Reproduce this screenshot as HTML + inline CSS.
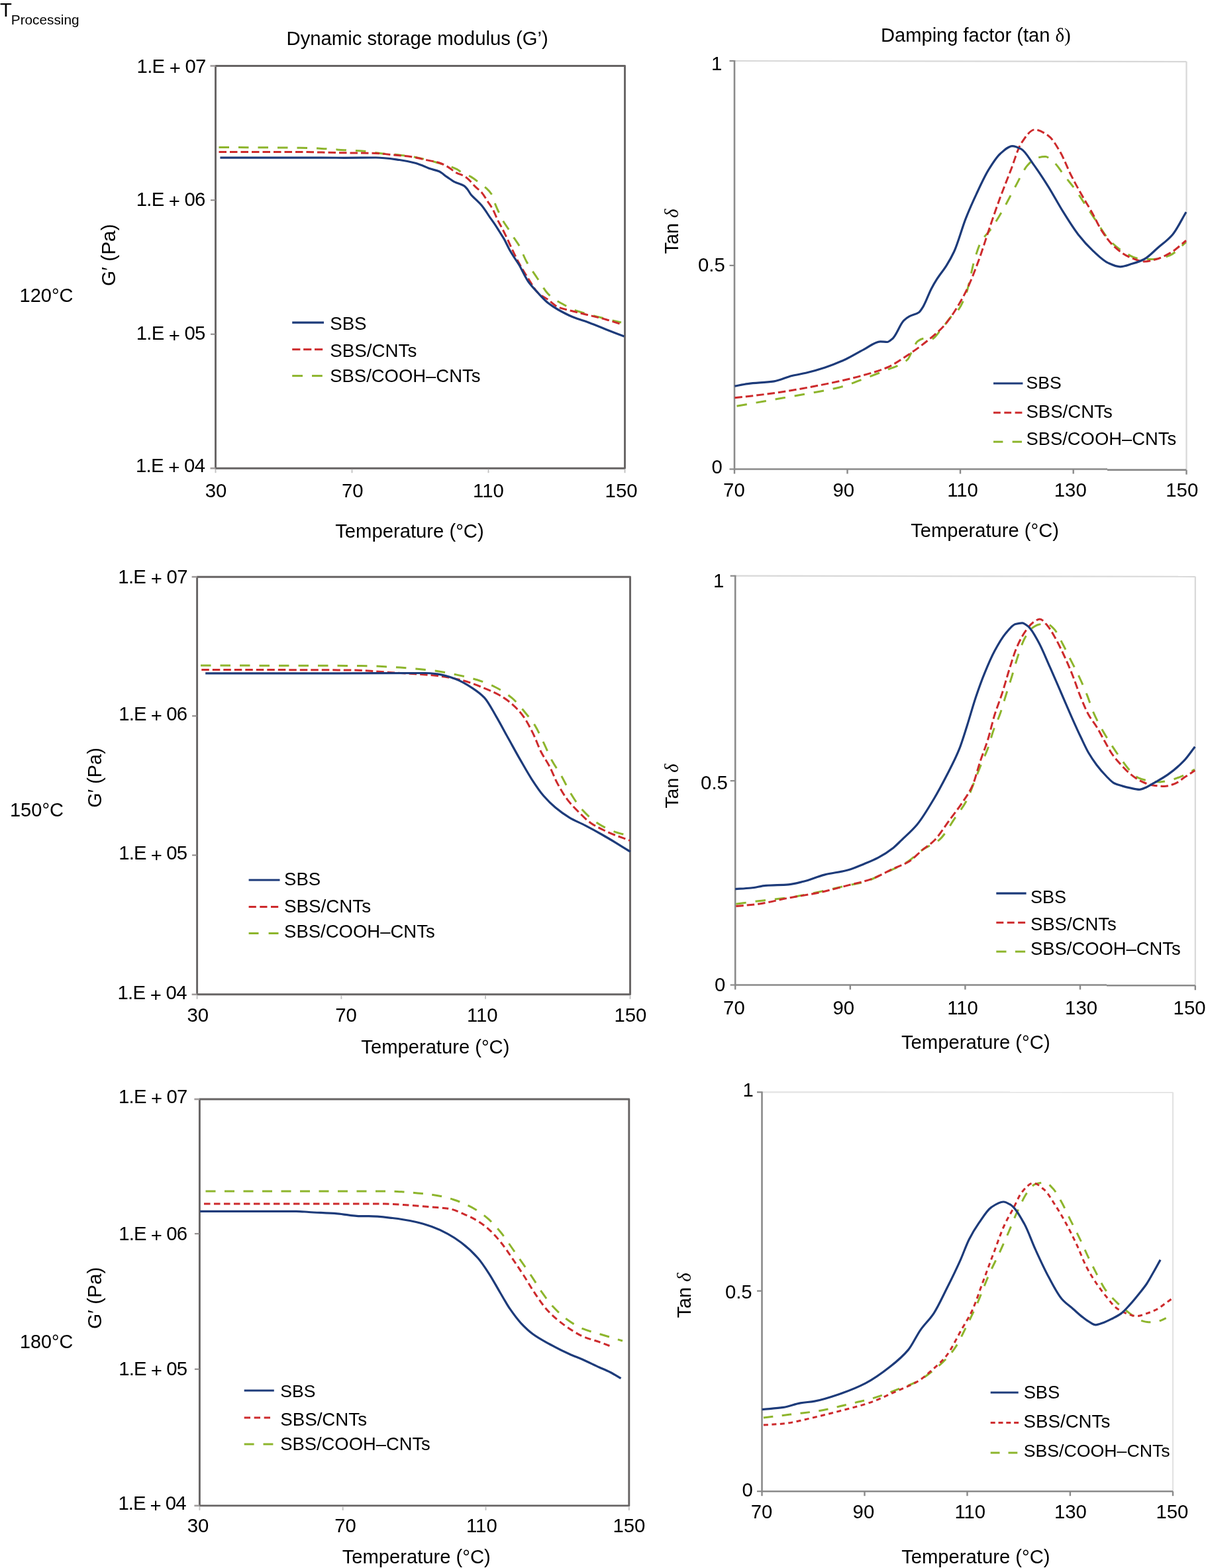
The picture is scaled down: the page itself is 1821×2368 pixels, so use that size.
<!DOCTYPE html><html><head><meta charset="utf-8"><title>Dynamic storage modulus and damping factor</title>
<style>html,body{margin:0;padding:0;background:#fff;}svg{display:block;}text{font-family:'Liberation Sans', sans-serif;fill:#000;}</style></head><body>
<svg width="1821" height="2368" viewBox="0 0 1821 2368">
<rect x="0" y="0" width="1821" height="2368" fill="#fff"/>
<g stroke-linecap="butt">
<rect x="325.5" y="99.5" width="618.00" height="607.70" fill="none" stroke="#676464" stroke-width="2.9" stroke-linejoin="round"/>
<line x1="318.0" y1="302.3" x2="325.5" y2="302.3" stroke="#8a8686" stroke-width="2"/>
<line x1="318.0" y1="504.7" x2="325.5" y2="504.7" stroke="#8a8686" stroke-width="2"/>
<line x1="317.5" y1="99.5" x2="325.5" y2="99.5" stroke="#a09c9c" stroke-width="2.6"/>
<line x1="317.5" y1="707.2" x2="325.5" y2="707.2" stroke="#a09c9c" stroke-width="2.6"/>
<line x1="325.5" y1="708.7" x2="325.5" y2="714.2" stroke="#c4c4c4" stroke-width="2"/>
<line x1="531.5" y1="708.7" x2="531.5" y2="714.2" stroke="#c4c4c4" stroke-width="2"/>
<line x1="737.5" y1="708.7" x2="737.5" y2="714.2" stroke="#c4c4c4" stroke-width="2"/>
<line x1="943.5" y1="708.7" x2="943.5" y2="714.2" stroke="#c4c4c4" stroke-width="2"/>
<rect x="297.6" y="871.2" width="653.90" height="630.60" fill="none" stroke="#676464" stroke-width="2.9" stroke-linejoin="round"/>
<line x1="290.1" y1="1081.3" x2="297.6" y2="1081.3" stroke="#8a8686" stroke-width="2"/>
<line x1="290.1" y1="1291.5" x2="297.6" y2="1291.5" stroke="#8a8686" stroke-width="2"/>
<line x1="289.6" y1="871.2" x2="297.6" y2="871.2" stroke="#a09c9c" stroke-width="2.6"/>
<line x1="289.6" y1="1501.8" x2="297.6" y2="1501.8" stroke="#a09c9c" stroke-width="2.6"/>
<line x1="297.6" y1="1503.3" x2="297.6" y2="1508.8" stroke="#c4c4c4" stroke-width="2"/>
<line x1="515.4" y1="1503.3" x2="515.4" y2="1508.8" stroke="#c4c4c4" stroke-width="2"/>
<line x1="733" y1="1503.3" x2="733" y2="1508.8" stroke="#c4c4c4" stroke-width="2"/>
<line x1="951.5" y1="1503.3" x2="951.5" y2="1508.8" stroke="#c4c4c4" stroke-width="2"/>
<rect x="301.4" y="1660" width="648.40" height="613.90" fill="none" stroke="#676464" stroke-width="2.9" stroke-linejoin="round"/>
<line x1="293.9" y1="1863.2" x2="301.4" y2="1863.2" stroke="#8a8686" stroke-width="2"/>
<line x1="293.9" y1="2067.7" x2="301.4" y2="2067.7" stroke="#8a8686" stroke-width="2"/>
<line x1="293.4" y1="1660" x2="301.4" y2="1660" stroke="#a09c9c" stroke-width="2.6"/>
<line x1="293.4" y1="2273.9" x2="301.4" y2="2273.9" stroke="#a09c9c" stroke-width="2.6"/>
<line x1="301.4" y1="2275.4" x2="301.4" y2="2280.9" stroke="#c4c4c4" stroke-width="2"/>
<line x1="517.7" y1="2275.4" x2="517.7" y2="2280.9" stroke="#c4c4c4" stroke-width="2"/>
<line x1="733.5" y1="2275.4" x2="733.5" y2="2280.9" stroke="#c4c4c4" stroke-width="2"/>
<line x1="949.8" y1="2275.4" x2="949.8" y2="2280.9" stroke="#c4c4c4" stroke-width="2"/>
<line x1="1109" y1="92" x2="1791.5" y2="93.1" stroke="#d8d8d8" stroke-width="2.2"/>
<line x1="1791.5" y1="93.1" x2="1791.5" y2="708.5" stroke="#d8d8d8" stroke-width="2.2"/>
<line x1="1109" y1="91" x2="1109" y2="709.7" stroke="#8a8a8a" stroke-width="2.6"/>
<line x1="1109" y1="708.5" x2="1672" y2="708.5" stroke="#8a8a8a" stroke-width="2.6"/>
<line x1="1672" y1="709.6" x2="1791.5" y2="709.6" stroke="#8a8a8a" stroke-width="2.6"/>
<line x1="1101.5" y1="92" x2="1109" y2="92" stroke="#8a8a8a" stroke-width="2.2"/>
<line x1="1101.5" y1="400.9" x2="1109" y2="400.9" stroke="#8a8a8a" stroke-width="2.2"/>
<line x1="1101.5" y1="708.5" x2="1109" y2="708.5" stroke="#8a8a8a" stroke-width="2.2"/>
<line x1="1109" y1="708.5" x2="1109" y2="715.5" stroke="#8a8a8a" stroke-width="2.4"/>
<line x1="1279.5" y1="708.5" x2="1279.5" y2="715.5" stroke="#8a8a8a" stroke-width="2.4"/>
<line x1="1450" y1="708.5" x2="1450" y2="715.5" stroke="#8a8a8a" stroke-width="2.4"/>
<line x1="1620.7" y1="708.5" x2="1620.7" y2="715.5" stroke="#8a8a8a" stroke-width="2.4"/>
<line x1="1791.5" y1="709.6" x2="1791.5" y2="716.6" stroke="#8a8a8a" stroke-width="2.4"/>
<line x1="1110.2" y1="869.7" x2="1804.8" y2="870.8" stroke="#d8d8d8" stroke-width="2.2"/>
<line x1="1804.8" y1="870.8" x2="1804.8" y2="1487.5" stroke="#d8d8d8" stroke-width="2.2"/>
<line x1="1110.2" y1="868.7" x2="1110.2" y2="1488.7" stroke="#8a8a8a" stroke-width="2.6"/>
<line x1="1110.2" y1="1487.5" x2="1671" y2="1487.5" stroke="#8a8a8a" stroke-width="2.6"/>
<line x1="1671" y1="1488.2" x2="1804.8" y2="1488.2" stroke="#8a8a8a" stroke-width="2.6"/>
<line x1="1102.7" y1="869.7" x2="1110.2" y2="869.7" stroke="#8a8a8a" stroke-width="2.2"/>
<line x1="1102.7" y1="1179.2" x2="1110.2" y2="1179.2" stroke="#8a8a8a" stroke-width="2.2"/>
<line x1="1102.7" y1="1487.5" x2="1110.2" y2="1487.5" stroke="#8a8a8a" stroke-width="2.2"/>
<line x1="1110.2" y1="1487.5" x2="1110.2" y2="1494.5" stroke="#8a8a8a" stroke-width="2.4"/>
<line x1="1283.8" y1="1487.5" x2="1283.8" y2="1494.5" stroke="#8a8a8a" stroke-width="2.4"/>
<line x1="1457.4" y1="1487.5" x2="1457.4" y2="1494.5" stroke="#8a8a8a" stroke-width="2.4"/>
<line x1="1631" y1="1487.5" x2="1631" y2="1494.5" stroke="#8a8a8a" stroke-width="2.4"/>
<line x1="1804.8" y1="1488.2" x2="1804.8" y2="1495.2" stroke="#8a8a8a" stroke-width="2.4"/>
<line x1="1150.5" y1="1649.4" x2="1771" y2="1649.6" stroke="#e3e3e3" stroke-width="2.2"/>
<line x1="1771" y1="1649.6" x2="1771" y2="2252.2" stroke="#e3e3e3" stroke-width="2.2"/>
<line x1="1150.5" y1="1648.4" x2="1150.5" y2="2253.3999999999996" stroke="#8a8a8a" stroke-width="2.6"/>
<line x1="1150.5" y1="2252.2" x2="1771" y2="2252.2" stroke="#8a8a8a" stroke-width="2.6"/>
<line x1="1143.0" y1="1649.4" x2="1150.5" y2="1649.4" stroke="#8a8a8a" stroke-width="2.2"/>
<line x1="1143.0" y1="1949.6" x2="1150.5" y2="1949.6" stroke="#8a8a8a" stroke-width="2.2"/>
<line x1="1143.0" y1="2252.2" x2="1150.5" y2="2252.2" stroke="#8a8a8a" stroke-width="2.2"/>
<line x1="1150.5" y1="2252.2" x2="1150.5" y2="2259.2" stroke="#8a8a8a" stroke-width="2.4"/>
<line x1="1305.5" y1="2252.2" x2="1305.5" y2="2259.2" stroke="#8a8a8a" stroke-width="2.4"/>
<line x1="1460.5" y1="2252.2" x2="1460.5" y2="2259.2" stroke="#8a8a8a" stroke-width="2.4"/>
<line x1="1615.9" y1="2252.2" x2="1615.9" y2="2259.2" stroke="#8a8a8a" stroke-width="2.4"/>
<line x1="1771" y1="2252.2" x2="1771" y2="2259.2" stroke="#8a8a8a" stroke-width="2.4"/>
<path d="M330.5,222.5 C371.4,222.7 412.4,222.7 453.3,223.2 C464.1,223.3 474.9,223.9 485.7,224.4 C497.1,224.9 508.6,226.1 520.0,226.7 C528.7,227.2 537.5,227.3 546.2,227.9 C555.3,228.5 564.5,230.4 573.6,231.4 C584.3,232.6 595.0,233.1 605.7,234.4 C614.8,235.5 624.0,236.8 633.1,238.6 C642.2,240.4 651.4,243.0 660.5,245.7 C670.3,248.6 680.2,250.9 690.0,255.7 C692.1,256.7 694.3,258.8 696.4,260.0 C701.4,262.8 706.4,264.2 711.4,267.1 C714.7,269.0 718.1,271.8 721.4,274.3 C725.7,277.5 730.0,280.2 734.3,284.3 C737.2,287.0 740.0,289.4 742.9,294.3 C744.6,297.2 746.2,304.4 747.9,308.6 C749.6,312.8 751.2,316.4 752.9,320.0 C755.3,325.1 757.6,330.2 760.0,334.3 C762.4,338.4 764.7,341.4 767.1,345.0 C770.0,349.4 772.8,354.2 775.7,358.6 C778.1,362.3 780.5,365.2 782.9,369.3 C786.9,376.2 791.0,387.7 795.0,395.0 C800.4,404.7 805.8,411.9 811.2,420.0 C816.7,428.1 822.1,438.2 827.5,443.8 C831.7,448.0 835.8,451.0 840.0,453.8 C843.8,456.2 847.5,457.9 851.2,460.0 C855.8,462.5 860.4,465.7 865.0,467.5 C873.3,470.8 881.7,472.7 890.0,475.0 C896.2,476.8 902.5,478.4 908.8,480.0 C918.5,482.5 928.2,484.7 938.0,487.0" fill="none" stroke="#8db52c" stroke-width="3" stroke-dasharray="15.5 14"/>
<path d="M330.5,229.5 C370.3,229.5 410.2,229.5 450.0,229.5 C473.3,229.5 496.7,230.5 520.0,230.8 C535.9,231.0 551.7,231.0 567.6,231.4 C575.5,231.6 583.5,233.0 591.4,233.8 C601.3,234.8 611.3,235.4 621.2,236.8 C629.1,237.9 637.1,240.2 645.0,241.9 C651.0,243.2 656.9,243.9 662.9,245.7 C666.9,246.9 670.8,249.0 674.8,251.1 C679.9,253.8 684.9,258.9 690.0,261.4 C693.6,263.2 697.1,263.8 700.7,265.7 C703.1,267.0 705.5,269.2 707.9,271.4 C711.0,274.2 714.0,278.3 717.1,281.4 C720.7,285.0 724.3,287.2 727.9,291.4 C730.7,294.7 733.6,300.0 736.4,304.3 C739.0,308.3 741.7,311.6 744.3,316.4 C746.7,320.7 749.0,327.3 751.4,332.1 C753.8,337.0 756.2,341.0 758.6,345.7 C761.0,350.3 763.3,355.0 765.7,360.0 C768.1,365.0 770.5,370.7 772.9,375.7 C776.5,383.3 780.1,390.9 783.8,397.5 C788.8,406.7 793.8,414.7 798.8,422.5 C803.3,429.6 807.9,438.3 812.5,442.5 C817.5,447.1 822.5,449.0 827.5,452.5 C832.5,456.0 837.5,461.7 842.5,463.8 C850.0,466.9 857.5,468.0 865.0,470.0 C873.3,472.2 881.7,474.2 890.0,476.2 C898.3,478.3 906.7,480.2 915.0,482.5 C922.0,484.4 929.0,486.8 936.0,489.0" fill="none" stroke="#cd2a2c" stroke-width="3" stroke-dasharray="11.5 5"/>
<path d="M332.4,238.1 C371.6,238.1 410.8,238.1 450.0,238.1 C473.3,238.1 496.7,238.3 520.0,238.3 C535.9,238.3 551.7,238.0 567.6,238.0 C579.5,238.0 591.4,239.9 603.3,241.5 C611.2,242.6 619.2,244.2 627.1,246.3 C631.1,247.4 635.0,249.0 639.0,250.5 C642.2,251.7 645.4,253.5 648.6,254.6 C653.4,256.3 658.1,256.8 662.9,258.8 C666.9,260.5 670.8,264.4 674.8,267.1 C678.8,269.8 682.7,272.9 686.7,274.9 C691.4,277.3 696.0,277.8 700.7,280.7 C702.4,281.7 704.0,283.7 705.7,285.7 C707.6,288.0 709.5,292.0 711.4,294.3 C713.8,297.2 716.2,299.0 718.6,301.4 C721.4,304.2 724.3,306.7 727.1,310.0 C729.0,312.3 731.0,315.1 732.9,317.9 C735.3,321.3 737.6,325.2 740.0,328.6 C742.4,332.0 744.7,335.1 747.1,338.6 C749.5,342.2 751.9,346.2 754.3,350.0 C756.7,353.8 759.0,357.2 761.4,361.4 C763.8,365.7 766.2,371.3 768.6,375.7 C770.7,379.6 772.9,383.1 775.0,386.5 C777.9,391.2 780.8,395.2 783.8,400.0 C788.3,407.6 792.9,418.5 797.5,425.0 C802.5,432.1 807.5,437.1 812.5,442.5 C817.5,447.9 822.5,453.5 827.5,457.5 C832.5,461.5 837.5,464.6 842.5,467.5 C850.0,471.8 857.5,475.7 865.0,478.8 C873.3,482.2 881.7,484.4 890.0,487.5 C898.3,490.6 906.7,494.2 915.0,497.5 C924.2,501.1 933.3,504.5 942.5,508.0" fill="none" stroke="#1d3b7a" stroke-width="3.2" stroke-linejoin="round"/>
<path d="M1112.5,613.3 C1122.2,611.6 1132.0,609.8 1141.7,608.1 C1155.6,605.6 1169.4,603.2 1183.3,600.8 C1197.2,598.4 1211.1,596.1 1225.0,593.5 C1238.9,590.9 1252.8,588.7 1266.7,585.2 C1280.6,581.7 1294.4,575.7 1308.3,570.6 C1318.0,567.0 1327.8,563.1 1337.5,559.2 C1345.8,555.8 1354.2,553.5 1362.5,548.8 C1365.3,547.2 1368.0,545.5 1370.8,542.5 C1373.6,539.4 1376.4,530.9 1379.2,525.8 C1381.3,522.1 1383.3,516.8 1385.4,515.4 C1388.9,513.0 1392.3,511.2 1395.8,511.2 C1398.6,511.2 1401.4,513.3 1404.2,513.3 C1411.1,513.3 1418.1,500.4 1425.0,492.5 C1428.6,488.4 1432.2,482.4 1435.8,478.6 C1439.1,475.1 1442.5,473.7 1445.8,469.6 C1450.0,464.4 1454.3,455.7 1458.5,444.6 C1463.0,432.8 1467.5,404.9 1472.0,390.4 C1475.0,380.6 1478.1,371.0 1481.1,365.5 C1486.4,356.0 1491.6,352.7 1496.9,345.1 C1502.9,336.4 1509.0,326.2 1515.0,315.7 C1521.0,305.2 1527.1,292.7 1533.1,281.8 C1539.1,270.9 1545.2,256.8 1551.2,250.1 C1555.7,245.1 1560.3,240.1 1564.8,238.8 C1569.3,237.5 1573.8,236.5 1578.3,236.5 C1582.8,236.5 1587.4,241.6 1591.9,245.6 C1597.2,250.2 1602.4,259.2 1607.7,266.0 C1613.0,272.8 1618.3,278.9 1623.6,286.3 C1628.1,292.5 1632.6,299.9 1637.1,306.7 C1643.1,315.8 1649.2,324.9 1655.2,333.8 C1662.0,343.8 1668.8,356.2 1675.6,363.2 C1683.1,371.0 1690.7,377.0 1698.2,381.3 C1705.0,385.2 1711.8,389.8 1718.6,390.4 C1726.1,391.1 1733.7,391.5 1741.2,391.5 C1749.5,391.5 1757.8,388.8 1766.1,385.8 C1774.4,382.8 1782.7,372.3 1791.0,365.5" fill="none" stroke="#8db52c" stroke-width="3" stroke-dasharray="15.5 14"/>
<path d="M1109.4,600.8 C1120.2,599.6 1130.9,598.4 1141.7,597.1 C1155.6,595.4 1169.4,593.6 1183.3,591.5 C1197.2,589.4 1211.1,586.8 1225.0,584.2 C1238.9,581.6 1252.8,578.9 1266.7,575.8 C1280.6,572.7 1294.4,569.4 1308.3,565.4 C1318.7,562.4 1329.2,559.5 1339.6,555.0 C1350.0,550.5 1360.4,543.1 1370.8,536.2 C1381.2,529.4 1391.6,521.8 1402.0,513.3 C1409.7,507.0 1417.3,500.8 1425.0,492.5 C1428.6,488.6 1432.2,483.7 1435.8,478.6 C1440.5,471.9 1445.3,464.2 1450.0,456.0 C1453.6,449.8 1457.1,443.2 1460.7,435.6 C1466.7,422.7 1472.8,406.9 1478.8,390.4 C1484.1,376.0 1489.3,358.3 1494.6,342.9 C1499.9,327.4 1505.2,311.9 1510.5,297.6 C1515.8,283.4 1521.0,270.5 1526.3,256.9 C1531.6,243.3 1536.8,223.9 1542.1,216.2 C1548.9,206.2 1555.7,195.8 1562.5,195.8 C1569.3,195.8 1576.1,200.3 1582.9,204.9 C1588.9,209.0 1595.0,219.6 1601.0,229.8 C1606.3,238.7 1611.5,253.2 1616.8,263.7 C1622.1,274.2 1627.3,283.7 1632.6,293.1 C1637.9,302.5 1643.2,310.8 1648.5,320.2 C1653.8,329.6 1659.0,341.7 1664.3,349.6 C1670.3,358.7 1676.4,366.8 1682.4,372.3 C1689.9,379.1 1697.5,384.9 1705.0,388.1 C1712.5,391.3 1720.1,394.9 1727.6,394.9 C1733.6,394.9 1739.7,393.1 1745.7,391.5 C1753.2,389.5 1760.8,385.6 1768.3,381.3 C1775.9,376.9 1783.4,369.2 1791.0,363.2" fill="none" stroke="#cd2a2c" stroke-width="3" stroke-dasharray="11.5 5"/>
<path d="M1109.4,583.1 C1116.0,581.9 1122.6,580.4 1129.2,579.6 C1142.4,577.9 1155.6,577.8 1168.8,575.8 C1177.8,574.4 1186.8,569.7 1195.8,567.5 C1202.8,565.8 1209.7,564.9 1216.7,563.3 C1226.4,561.0 1236.1,558.2 1245.8,555.0 C1256.2,551.5 1266.7,547.3 1277.1,542.5 C1286.1,538.3 1295.2,532.5 1304.2,527.9 C1312.5,523.7 1320.9,515.8 1329.2,515.8 C1332.7,515.8 1336.1,516.5 1339.6,516.5 C1342.4,516.5 1345.1,513.6 1347.9,511.2 C1353.5,506.4 1359.0,489.7 1364.6,484.2 C1367.4,481.5 1370.1,479.4 1372.9,477.9 C1377.8,475.2 1382.6,475.1 1387.5,471.7 C1389.6,470.3 1391.7,466.7 1393.8,463.3 C1397.9,456.6 1402.1,444.2 1406.2,436.2 C1409.0,430.9 1411.8,426.1 1414.6,421.7 C1419.5,414.0 1424.3,408.6 1429.2,400.8 C1433.0,394.7 1436.8,388.3 1440.6,380.0 C1446.6,367.0 1452.5,344.4 1458.5,329.3 C1463.8,316.0 1469.0,304.4 1474.3,293.1 C1480.3,280.2 1486.4,266.7 1492.4,256.9 C1498.4,247.1 1504.5,237.2 1510.5,232.0 C1516.5,226.8 1522.6,220.7 1528.6,220.7 C1533.1,220.7 1537.6,222.9 1542.1,225.2 C1548.1,228.3 1554.2,239.7 1560.2,247.9 C1567.8,258.2 1575.3,269.8 1582.9,281.8 C1590.4,293.8 1598.0,308.2 1605.5,320.2 C1613.0,332.2 1620.6,344.6 1628.1,354.2 C1635.6,363.8 1643.2,372.1 1650.7,379.1 C1658.2,386.0 1665.8,393.8 1673.3,397.1 C1679.3,399.8 1685.4,402.8 1691.4,402.8 C1697.4,402.8 1703.5,400.1 1709.5,398.3 C1715.5,396.5 1721.6,394.6 1727.6,391.5 C1734.4,388.0 1741.2,380.4 1748.0,374.5 C1755.5,368.0 1763.1,363.0 1770.6,354.2 C1777.4,346.2 1784.2,331.5 1791.0,320.2" fill="none" stroke="#1d3b7a" stroke-width="3.2" stroke-linejoin="round"/>
<path d="M303.0,1005.0 C383.6,1005.2 464.2,1005.1 544.8,1005.5 C564.6,1005.6 584.5,1006.9 604.3,1008.1 C613.8,1008.7 623.4,1009.6 632.9,1010.5 C641.9,1011.4 651.0,1012.2 660.0,1013.4 C670.7,1014.9 681.4,1017.3 692.1,1019.6 C701.6,1021.7 711.2,1023.8 720.7,1026.8 C729.6,1029.6 738.6,1033.1 747.5,1037.5 C755.8,1041.6 764.2,1046.8 772.5,1053.6 C779.0,1058.9 785.6,1067.1 792.1,1075.0 C797.5,1081.5 802.8,1087.8 808.2,1096.4 C812.4,1103.1 816.5,1112.8 820.7,1121.4 C824.9,1130.0 829.0,1140.5 833.2,1148.2 C838.0,1157.0 842.7,1163.1 847.5,1171.4 C852.3,1179.7 857.0,1190.4 861.8,1198.2 C867.2,1207.0 872.5,1215.3 877.9,1221.4 C885.0,1229.5 892.2,1236.2 899.3,1241.1 C908.2,1247.2 917.2,1252.0 926.1,1255.4 C934.6,1258.6 943.2,1260.4 951.7,1262.9" fill="none" stroke="#8db52c" stroke-width="3" stroke-dasharray="15.5 14"/>
<path d="M304.3,1011.4 C378.9,1011.6 453.4,1011.5 528.0,1012.0 C551.8,1012.1 575.7,1014.7 599.5,1016.2 C615.3,1017.2 631.2,1018.0 647.0,1019.3 C651.3,1019.6 655.7,1020.0 660.0,1020.5 C671.9,1021.9 683.8,1024.0 695.7,1026.8 C707.6,1029.6 719.5,1034.5 731.4,1039.3 C739.1,1042.4 746.9,1045.6 754.6,1050.0 C761.2,1053.7 767.7,1058.5 774.3,1064.3 C779.7,1069.0 785.0,1074.8 790.4,1082.1 C795.1,1088.6 799.9,1097.7 804.6,1107.1 C808.8,1115.4 812.9,1127.5 817.1,1135.7 C821.3,1143.9 825.4,1149.2 829.6,1157.1 C833.8,1165.0 837.9,1176.2 842.1,1183.9 C846.9,1192.7 851.6,1200.8 856.4,1207.1 C862.4,1215.0 868.3,1220.9 874.3,1226.8 C880.2,1232.7 886.2,1238.9 892.1,1242.9 C901.0,1249.0 910.0,1253.1 918.9,1257.1 C929.6,1261.9 940.3,1265.3 951.0,1269.4" fill="none" stroke="#cd2a2c" stroke-width="3" stroke-dasharray="11.5 5"/>
<path d="M310.2,1016.9 C373.5,1016.9 436.7,1016.9 500.0,1016.9 C547.5,1016.9 594.9,1016.5 642.4,1016.5 C648.3,1016.5 654.1,1017.2 660.0,1017.9 C668.9,1019.0 677.9,1021.8 686.8,1025.0 C695.7,1028.2 704.7,1033.5 713.6,1039.3 C719.5,1043.2 725.5,1047.3 731.4,1053.6 C737.4,1060.0 743.3,1072.0 749.3,1082.1 C755.2,1092.1 761.2,1103.6 767.1,1114.3 C773.1,1125.0 779.0,1136.0 785.0,1146.4 C791.0,1156.8 796.9,1167.6 802.9,1176.8 C808.8,1185.9 814.8,1194.9 820.7,1201.8 C826.7,1208.7 832.6,1214.6 838.6,1219.6 C845.7,1225.6 852.9,1230.7 860.0,1234.9 C867.7,1239.4 875.5,1242.4 883.2,1246.4 C892.1,1251.0 901.1,1255.9 910.0,1261.0 C923.9,1268.9 937.8,1277.7 951.7,1286.1" fill="none" stroke="#1d3b7a" stroke-width="3.2" stroke-linejoin="round"/>
<path d="M1111.3,1365.2 C1122.6,1363.7 1133.9,1362.1 1145.2,1360.7 C1161.8,1358.6 1178.4,1357.4 1195.0,1355.0 C1208.6,1353.0 1222.1,1349.9 1235.7,1347.1 C1250.8,1344.0 1265.9,1340.1 1281.0,1336.9 C1288.5,1335.3 1296.1,1334.4 1303.6,1332.4 C1314.9,1329.4 1326.2,1323.0 1337.5,1317.7 C1348.8,1312.4 1360.1,1307.8 1371.4,1300.7 C1378.9,1296.0 1386.5,1287.7 1394.0,1282.6 C1402.1,1277.1 1410.2,1275.0 1418.3,1268.3 C1426.6,1261.4 1435.0,1245.4 1443.3,1233.3 C1448.9,1225.2 1454.4,1218.8 1460.0,1208.3 C1464.4,1199.9 1468.9,1186.1 1473.3,1175.0 C1476.6,1166.7 1480.0,1158.1 1483.3,1150.0 C1486.1,1143.2 1488.9,1137.7 1491.7,1130.0 C1494.5,1122.4 1497.2,1111.1 1500.0,1103.3 C1503.3,1093.9 1506.7,1087.7 1510.0,1078.3 C1512.8,1070.5 1515.5,1060.5 1518.3,1051.7 C1521.6,1041.1 1525.0,1030.9 1528.3,1020.0 C1531.1,1010.8 1533.9,1000.1 1536.7,991.7 C1540.0,981.7 1543.4,971.4 1546.7,965.0 C1550.0,958.6 1553.4,952.8 1556.7,950.0 C1560.6,946.7 1564.4,944.2 1568.3,943.3 C1572.2,942.4 1576.1,941.7 1580.0,941.7 C1583.9,941.7 1587.8,946.1 1591.7,950.0 C1596.1,954.4 1600.6,965.0 1605.0,973.3 C1608.3,979.5 1611.7,986.6 1615.0,993.3 C1619.9,1003.0 1624.7,1012.0 1629.6,1022.4 C1633.6,1030.9 1637.5,1039.9 1641.5,1049.9 C1644.7,1057.9 1647.9,1068.8 1651.1,1076.2 C1654.7,1084.5 1658.3,1091.2 1661.9,1097.8 C1665.9,1105.1 1669.8,1111.8 1673.8,1118.1 C1679.4,1127.1 1685.0,1135.4 1690.6,1143.2 C1695.8,1150.4 1700.9,1158.2 1706.1,1163.6 C1710.1,1167.8 1714.1,1172.4 1718.1,1174.3 C1723.3,1176.7 1728.5,1178.3 1733.7,1179.1 C1739.7,1180.0 1745.6,1180.9 1751.6,1180.9 C1757.2,1180.9 1762.8,1179.2 1768.4,1177.9 C1774.8,1176.4 1781.1,1173.6 1787.5,1170.8 C1793.0,1168.4 1798.5,1164.9 1804.0,1162.0" fill="none" stroke="#8db52c" stroke-width="3" stroke-dasharray="15.5 14"/>
<path d="M1111.3,1368.6 C1122.6,1367.5 1133.9,1366.7 1145.2,1365.2 C1160.3,1363.2 1175.4,1358.9 1190.5,1356.1 C1205.6,1353.3 1220.6,1351.3 1235.7,1348.2 C1250.8,1345.1 1265.9,1340.8 1281.0,1336.9 C1292.3,1334.0 1303.6,1331.7 1314.9,1327.9 C1326.2,1324.1 1337.5,1317.2 1348.8,1312.0 C1356.3,1308.5 1363.9,1306.2 1371.4,1301.8 C1378.9,1297.4 1386.5,1288.7 1394.0,1282.6 C1399.3,1278.3 1404.7,1275.2 1410.0,1270.0 C1418.3,1261.9 1426.7,1247.9 1435.0,1236.7 C1441.1,1228.5 1447.2,1220.9 1453.3,1211.7 C1458.3,1204.2 1463.3,1197.7 1468.3,1186.7 C1472.2,1178.1 1476.1,1161.6 1480.0,1150.0 C1483.9,1138.4 1487.8,1129.2 1491.7,1116.7 C1495.0,1106.0 1498.4,1090.8 1501.7,1080.0 C1505.6,1067.5 1509.4,1058.7 1513.3,1046.7 C1516.6,1036.4 1520.0,1023.8 1523.3,1013.3 C1527.2,1001.0 1531.1,987.3 1535.0,978.3 C1539.4,968.0 1543.9,959.5 1548.3,953.3 C1552.2,947.8 1556.1,942.7 1560.0,940.0 C1563.3,937.7 1566.7,935.0 1570.0,935.0 C1573.9,935.0 1577.8,940.7 1581.7,945.0 C1585.6,949.3 1589.4,956.5 1593.3,963.3 C1597.8,971.1 1602.2,980.4 1606.7,990.0 C1611.1,999.5 1615.6,1009.9 1620.0,1021.0 C1624.0,1031.0 1628.0,1043.8 1632.0,1053.5 C1636.0,1063.2 1639.9,1072.7 1643.9,1079.8 C1647.9,1087.0 1651.9,1091.3 1655.9,1097.8 C1659.9,1104.3 1663.9,1112.3 1667.9,1119.3 C1671.9,1126.2 1675.8,1134.0 1679.8,1139.6 C1683.8,1145.2 1687.8,1149.6 1691.8,1154.0 C1696.6,1159.2 1701.3,1164.5 1706.1,1168.4 C1711.3,1172.7 1716.5,1176.6 1721.7,1179.1 C1727.7,1182.0 1733.6,1184.8 1739.6,1185.7 C1745.6,1186.6 1751.6,1187.5 1757.6,1187.5 C1762.8,1187.5 1767.9,1185.7 1773.1,1183.9 C1778.7,1182.0 1784.3,1176.7 1789.9,1173.1 C1794.7,1170.0 1799.5,1166.8 1804.3,1163.6" fill="none" stroke="#cd2a2c" stroke-width="3" stroke-dasharray="11.5 5"/>
<path d="M1110.2,1342.6 C1118.1,1342.1 1126.0,1341.8 1133.9,1341.0 C1141.4,1340.3 1149.0,1338.0 1156.5,1337.4 C1167.8,1336.5 1179.2,1336.7 1190.5,1335.8 C1198.0,1335.2 1205.6,1333.1 1213.1,1331.3 C1223.7,1328.7 1234.2,1323.7 1244.8,1321.1 C1256.9,1318.1 1268.9,1317.1 1281.0,1313.8 C1288.5,1311.8 1296.1,1308.3 1303.6,1305.2 C1311.1,1302.1 1318.7,1299.1 1326.2,1295.1 C1333.7,1291.1 1341.3,1286.3 1348.8,1280.4 C1353.1,1277.0 1357.4,1272.4 1361.7,1268.3 C1369.5,1260.8 1377.2,1254.4 1385.0,1245.0 C1393.3,1234.9 1401.7,1220.7 1410.0,1206.7 C1416.7,1195.5 1423.3,1183.0 1430.0,1170.0 C1436.1,1158.1 1442.2,1146.9 1448.3,1131.7 C1452.2,1122.0 1456.1,1108.9 1460.0,1096.7 C1464.4,1082.9 1468.9,1066.5 1473.3,1053.3 C1477.8,1040.0 1482.2,1027.7 1486.7,1016.7 C1491.7,1004.4 1496.7,992.6 1501.7,983.3 C1507.2,973.0 1512.8,963.3 1518.3,956.7 C1523.3,950.8 1528.3,943.9 1533.3,942.5 C1536.6,941.6 1540.0,940.8 1543.3,940.8 C1546.6,940.8 1550.0,943.9 1553.3,946.7 C1558.3,950.9 1563.3,960.9 1568.3,970.0 C1573.9,980.1 1579.4,994.2 1585.0,1006.7 C1590.6,1019.2 1596.1,1032.2 1601.7,1045.0 C1607.2,1057.7 1612.8,1070.9 1618.3,1083.3 C1622.9,1093.6 1627.4,1103.7 1632.0,1113.3 C1636.0,1121.6 1639.9,1130.5 1643.9,1137.3 C1647.9,1144.2 1651.9,1149.9 1655.9,1155.2 C1660.7,1161.5 1665.5,1167.1 1670.3,1172.0 C1674.3,1176.0 1678.2,1180.7 1682.2,1182.7 C1686.2,1184.7 1690.2,1185.7 1694.2,1186.9 C1698.2,1188.1 1702.1,1189.1 1706.1,1189.9 C1710.9,1190.9 1715.7,1192.3 1720.5,1192.3 C1724.1,1192.3 1727.7,1190.2 1731.3,1188.7 C1734.9,1187.2 1738.4,1184.8 1742.0,1182.7 C1749.2,1178.5 1756.4,1174.7 1763.6,1169.6 C1771.6,1164.0 1779.5,1157.5 1787.5,1149.2 C1793.1,1143.4 1798.7,1134.9 1804.3,1127.7" fill="none" stroke="#1d3b7a" stroke-width="3.2" stroke-linejoin="round"/>
<path d="M310.5,1799.0 C403.0,1799.0 495.4,1799.0 587.9,1799.0 C595.8,1799.0 603.8,1799.7 611.7,1800.2 C620.4,1800.8 629.2,1801.6 637.9,1802.6 C646.6,1803.6 655.3,1804.6 664.0,1806.2 C671.0,1807.5 678.0,1809.4 685.0,1811.7 C696.1,1815.3 707.2,1820.3 718.3,1826.7 C725.0,1830.5 731.6,1835.8 738.3,1841.7 C744.4,1847.2 750.6,1854.2 756.7,1861.7 C762.2,1868.5 767.8,1877.1 773.3,1885.0 C778.3,1892.1 783.3,1899.5 788.3,1906.7 C793.3,1913.9 798.3,1920.8 803.3,1928.3 C808.3,1935.8 813.3,1944.6 818.3,1951.7 C823.9,1959.6 829.4,1967.3 835.0,1973.3 C841.7,1980.5 848.3,1986.8 855.0,1991.7 C863.3,1997.8 871.7,2003.3 880.0,2006.7 C888.9,2010.4 897.8,2012.3 906.7,2015.0 C917.8,2018.4 928.9,2021.7 940.0,2025.0" fill="none" stroke="#8db52c" stroke-width="3" stroke-dasharray="15 13.5"/>
<path d="M308.0,1818.1 C398.9,1818.1 489.8,1818.1 580.7,1818.1 C592.6,1818.1 604.5,1819.2 616.4,1820.0 C628.3,1820.8 640.2,1821.8 652.1,1822.9 C661.4,1823.8 670.7,1824.2 680.0,1825.8 C686.7,1826.9 693.3,1830.4 700.0,1833.3 C707.2,1836.4 714.5,1839.8 721.7,1844.2 C727.8,1847.9 733.9,1852.8 740.0,1858.3 C745.6,1863.4 751.1,1869.8 756.7,1876.7 C762.2,1883.5 767.8,1892.0 773.3,1900.0 C778.9,1908.1 784.4,1916.4 790.0,1925.0 C795.6,1933.6 801.1,1943.4 806.7,1951.7 C812.2,1960.0 817.8,1968.5 823.3,1975.0 C828.9,1981.5 834.4,1986.9 840.0,1991.7 C846.7,1997.4 853.3,2002.3 860.0,2006.7 C866.7,2011.1 873.3,2015.4 880.0,2018.3 C888.3,2021.9 896.7,2023.7 905.0,2026.7 C911.7,2029.1 918.3,2031.7 925.0,2034.2" fill="none" stroke="#cd2a2c" stroke-width="3" stroke-dasharray="9.5 5.5"/>
<path d="M302.1,1829.3 C350.5,1829.3 399.0,1829.3 447.4,1829.3 C453.7,1829.3 460.1,1830.1 466.4,1830.5 C480.7,1831.4 495.0,1831.8 509.3,1832.9 C521.2,1833.8 533.1,1836.7 545.0,1836.7 C549.0,1836.7 552.9,1836.7 556.9,1836.7 C568.8,1836.7 580.7,1838.2 592.6,1839.5 C604.5,1840.8 616.4,1842.9 628.3,1845.5 C636.2,1847.2 644.2,1849.8 652.1,1852.6 C660.1,1855.5 668.0,1859.1 676.0,1863.3 C682.9,1867.0 689.8,1871.5 696.7,1876.7 C705.0,1883.0 713.4,1890.5 721.7,1900.0 C727.2,1906.3 732.8,1914.8 738.3,1923.3 C743.9,1931.9 749.4,1942.3 755.0,1951.7 C760.0,1960.1 765.0,1969.4 770.0,1976.7 C775.6,1984.8 781.1,1992.3 786.7,1998.3 C792.8,2004.8 798.9,2010.5 805.0,2015.0 C813.3,2021.1 821.7,2025.4 830.0,2030.0 C840.0,2035.5 850.0,2040.5 860.0,2045.0 C866.7,2048.0 873.3,2050.4 880.0,2053.3 C888.3,2057.0 896.7,2061.2 905.0,2065.0 C910.6,2067.5 916.1,2069.7 921.7,2072.5 C927.0,2075.2 932.2,2078.6 937.5,2081.7" fill="none" stroke="#1d3b7a" stroke-width="3.2" stroke-linejoin="round"/>
<path d="M1152.9,2141.0 C1166.5,2139.4 1180.0,2137.8 1193.6,2136.1 C1207.9,2134.3 1222.1,2133.0 1236.4,2130.7 C1250.7,2128.4 1265.0,2124.5 1279.3,2121.1 C1293.6,2117.7 1307.8,2114.7 1322.1,2110.4 C1332.8,2107.2 1343.6,2102.7 1354.3,2098.6 C1365.0,2094.5 1375.7,2091.3 1386.4,2085.7 C1393.6,2082.0 1400.7,2076.3 1407.9,2070.7 C1415.0,2065.1 1422.2,2059.0 1429.3,2051.4 C1434.3,2046.0 1439.3,2039.9 1444.3,2032.1 C1448.4,2025.7 1452.6,2016.6 1456.7,2008.3 C1462.8,1996.1 1468.9,1983.8 1475.0,1970.0 C1481.1,1956.2 1487.2,1938.8 1493.3,1925.0 C1498.9,1912.4 1504.4,1902.1 1510.0,1890.0 C1514.4,1880.4 1518.9,1870.2 1523.3,1860.0 C1527.8,1849.7 1532.2,1837.7 1536.7,1828.3 C1541.7,1817.8 1546.7,1806.5 1551.7,1800.0 C1555.6,1795.0 1559.4,1789.4 1563.3,1788.3 C1568.3,1786.8 1573.3,1785.8 1578.3,1785.8 C1582.2,1785.8 1586.1,1790.9 1590.0,1795.0 C1593.9,1799.1 1597.8,1806.5 1601.7,1813.3 C1606.7,1822.0 1611.7,1833.3 1616.7,1843.3 C1621.7,1853.3 1626.7,1862.8 1631.7,1873.3 C1635.6,1881.4 1639.4,1890.5 1643.3,1898.6 C1647.3,1907.0 1651.4,1915.2 1655.4,1922.9 C1659.8,1931.3 1664.2,1940.9 1668.6,1947.1 C1674.3,1955.2 1680.1,1960.8 1685.8,1966.4 C1692.5,1972.9 1699.3,1978.6 1706.0,1983.6 C1711.1,1987.4 1716.1,1992.0 1721.2,1993.7 C1725.6,1995.2 1730.0,1996.7 1734.4,1996.7 C1738.8,1996.7 1743.1,1996.3 1747.5,1995.7 C1751.9,1995.1 1756.3,1992.4 1760.7,1990.7" fill="none" stroke="#8db52c" stroke-width="3" stroke-dasharray="14.5 13.5"/>
<path d="M1152.9,2152.1 C1162.9,2151.4 1172.9,2151.0 1182.9,2150.0 C1197.2,2148.6 1211.4,2144.6 1225.7,2141.4 C1240.0,2138.2 1254.3,2134.4 1268.6,2130.7 C1282.9,2127.0 1297.1,2123.7 1311.4,2118.9 C1325.7,2114.1 1340.0,2107.1 1354.3,2100.7 C1365.0,2095.9 1375.7,2092.1 1386.4,2085.7 C1393.6,2081.4 1400.7,2075.0 1407.9,2068.6 C1415.0,2062.3 1422.2,2056.2 1429.3,2047.1 C1436.8,2037.6 1444.2,2021.5 1451.7,2008.3 C1457.2,1998.5 1462.8,1990.3 1468.3,1978.3 C1473.3,1967.5 1478.3,1951.7 1483.3,1938.3 C1488.9,1923.4 1494.4,1908.0 1500.0,1893.3 C1505.6,1878.6 1511.1,1862.1 1516.7,1850.0 C1521.1,1840.4 1525.6,1833.3 1530.0,1825.0 C1534.4,1816.7 1538.9,1805.0 1543.3,1800.0 C1548.9,1793.7 1554.4,1786.7 1560.0,1786.7 C1565.6,1786.7 1571.1,1792.0 1576.7,1796.7 C1582.2,1801.3 1587.8,1811.5 1593.3,1820.0 C1598.9,1828.5 1604.4,1838.1 1610.0,1848.3 C1615.6,1858.5 1621.1,1869.8 1626.7,1881.7 C1631.2,1891.3 1635.7,1904.0 1640.2,1912.7 C1645.3,1922.5 1650.3,1930.5 1655.4,1938.0 C1660.5,1945.5 1665.5,1952.1 1670.6,1958.3 C1675.7,1964.5 1680.7,1971.8 1685.8,1975.5 C1690.9,1979.2 1695.9,1981.8 1701.0,1983.6 C1706.0,1985.4 1711.1,1987.6 1716.1,1987.6 C1721.2,1987.6 1726.2,1985.2 1731.3,1983.6 C1736.4,1982.0 1741.4,1980.1 1746.5,1977.5 C1750.9,1975.3 1755.2,1971.5 1759.6,1968.4 C1763.3,1965.8 1767.1,1963.0 1770.8,1960.3" fill="none" stroke="#cd2a2c" stroke-width="3" stroke-dasharray="7 5.5"/>
<path d="M1150.7,2128.6 C1161.4,2127.5 1172.2,2127.0 1182.9,2125.4 C1191.5,2124.2 1200.0,2120.4 1208.6,2118.9 C1215.7,2117.7 1222.9,2117.3 1230.0,2116.1 C1242.9,2113.9 1255.7,2109.4 1268.6,2105.0 C1281.4,2100.6 1294.3,2095.5 1307.1,2088.9 C1319.3,2082.6 1331.4,2073.9 1343.6,2064.3 C1352.9,2057.0 1362.1,2049.7 1371.4,2038.6 C1377.6,2031.2 1383.8,2017.1 1390.0,2008.3 C1396.7,1998.9 1403.3,1993.4 1410.0,1983.3 C1416.7,1973.2 1423.3,1958.3 1430.0,1945.0 C1436.7,1931.7 1443.3,1918.2 1450.0,1903.3 C1454.4,1893.4 1458.9,1880.4 1463.3,1871.7 C1468.3,1861.9 1473.3,1853.9 1478.3,1846.7 C1484.4,1837.8 1490.6,1827.4 1496.7,1823.3 C1502.8,1819.2 1508.9,1815.0 1515.0,1815.0 C1518.9,1815.0 1522.8,1817.6 1526.7,1820.0 C1533.4,1824.2 1540.0,1836.5 1546.7,1848.3 C1552.2,1858.1 1557.8,1874.6 1563.3,1886.7 C1570.0,1901.3 1576.6,1915.9 1583.3,1928.3 C1590.0,1940.7 1596.6,1954.1 1603.3,1961.7 C1608.9,1968.1 1614.4,1971.6 1620.0,1976.5 C1625.1,1980.9 1630.1,1985.7 1635.2,1989.6 C1638.6,1992.2 1641.9,1994.9 1645.3,1996.7 C1648.3,1998.4 1651.4,2000.8 1654.4,2000.8 C1658.1,2000.8 1661.8,1999.0 1665.5,1997.7 C1670.6,1996.0 1675.6,1993.3 1680.7,1990.7 C1684.8,1988.6 1688.8,1986.6 1692.9,1983.6 C1697.3,1980.4 1701.6,1975.2 1706.0,1970.4 C1711.1,1964.9 1716.1,1958.6 1721.2,1952.2 C1724.6,1948.0 1727.9,1944.0 1731.3,1939.0 C1734.7,1934.0 1738.0,1927.7 1741.4,1921.8 C1745.0,1915.6 1748.5,1909.0 1752.1,1902.6" fill="none" stroke="#1d3b7a" stroke-width="3.2" stroke-linejoin="round"/>
<line x1="441.2" y1="487.1" x2="489" y2="487.1" stroke="#1d3b7a" stroke-width="3.2"/>
<line x1="441.2" y1="527.7" x2="453.4" y2="527.7" stroke="#cd2a2c" stroke-width="3"/>
<line x1="458.1" y1="527.7" x2="470.3" y2="527.7" stroke="#cd2a2c" stroke-width="3"/>
<line x1="475.0" y1="527.7" x2="487.2" y2="527.7" stroke="#cd2a2c" stroke-width="3"/>
<line x1="441.2" y1="567.6" x2="457.0" y2="567.6" stroke="#8db52c" stroke-width="3"/>
<line x1="471.0" y1="567.6" x2="486.8" y2="567.6" stroke="#8db52c" stroke-width="3"/>
<line x1="1500" y1="579" x2="1544.4" y2="579" stroke="#1d3b7a" stroke-width="3.2"/>
<line x1="1500" y1="623.2" x2="1510.8" y2="623.2" stroke="#cd2a2c" stroke-width="3"/>
<line x1="1516.3" y1="623.2" x2="1527.1" y2="623.2" stroke="#cd2a2c" stroke-width="3"/>
<line x1="1532.6" y1="623.2" x2="1543.4" y2="623.2" stroke="#cd2a2c" stroke-width="3"/>
<line x1="1500" y1="667.2" x2="1514.4" y2="667.2" stroke="#8db52c" stroke-width="3"/>
<line x1="1528.6" y1="667.2" x2="1543.0" y2="667.2" stroke="#8db52c" stroke-width="3"/>
<line x1="375.6" y1="1329" x2="422.5" y2="1329" stroke="#1d3b7a" stroke-width="3.2"/>
<line x1="375.6" y1="1369.5" x2="386.8" y2="1369.5" stroke="#cd2a2c" stroke-width="3"/>
<line x1="392.3" y1="1369.5" x2="403.5" y2="1369.5" stroke="#cd2a2c" stroke-width="3"/>
<line x1="409.0" y1="1369.5" x2="420.2" y2="1369.5" stroke="#cd2a2c" stroke-width="3"/>
<line x1="375.6" y1="1409.5" x2="390.5" y2="1409.5" stroke="#8db52c" stroke-width="3"/>
<line x1="405.6" y1="1409.5" x2="420.5" y2="1409.5" stroke="#8db52c" stroke-width="3"/>
<line x1="1504.3" y1="1349.1" x2="1549.6" y2="1349.1" stroke="#1d3b7a" stroke-width="3.2"/>
<line x1="1504.3" y1="1393.3" x2="1515.3" y2="1393.3" stroke="#cd2a2c" stroke-width="3"/>
<line x1="1520.7" y1="1393.3" x2="1531.7" y2="1393.3" stroke="#cd2a2c" stroke-width="3"/>
<line x1="1537.1" y1="1393.3" x2="1548.1" y2="1393.3" stroke="#cd2a2c" stroke-width="3"/>
<line x1="1504.3" y1="1437.1" x2="1519.5" y2="1437.1" stroke="#8db52c" stroke-width="3"/>
<line x1="1532.9" y1="1437.1" x2="1548.1" y2="1437.1" stroke="#8db52c" stroke-width="3"/>
<line x1="368.7" y1="2100" x2="413.8" y2="2100" stroke="#1d3b7a" stroke-width="3.2"/>
<line x1="368.7" y1="2141" x2="378.0" y2="2141" stroke="#cd2a2c" stroke-width="3"/>
<line x1="383.7" y1="2141" x2="393.0" y2="2141" stroke="#cd2a2c" stroke-width="3"/>
<line x1="398.7" y1="2141" x2="408.0" y2="2141" stroke="#cd2a2c" stroke-width="3"/>
<line x1="368.7" y1="2181" x2="383.6" y2="2181" stroke="#8db52c" stroke-width="3"/>
<line x1="397.5" y1="2181" x2="412.4" y2="2181" stroke="#8db52c" stroke-width="3"/>
<line x1="1495.7" y1="2103" x2="1537.7" y2="2103" stroke="#1d3b7a" stroke-width="3.2"/>
<line x1="1495.7" y1="2148.6" x2="1502.7" y2="2148.6" stroke="#cd2a2c" stroke-width="3"/>
<line x1="1507.5" y1="2148.6" x2="1514.5" y2="2148.6" stroke="#cd2a2c" stroke-width="3"/>
<line x1="1519.3" y1="2148.6" x2="1526.3" y2="2148.6" stroke="#cd2a2c" stroke-width="3"/>
<line x1="1531.1" y1="2148.6" x2="1538.1" y2="2148.6" stroke="#cd2a2c" stroke-width="3"/>
<line x1="1495.7" y1="2194" x2="1509.5" y2="2194" stroke="#8db52c" stroke-width="3"/>
<line x1="1522.5" y1="2194" x2="1536.3" y2="2194" stroke="#8db52c" stroke-width="3"/>
</g>
<g>
<text id="tT" x="0.10" y="24.90" font-size="29.30">T</text>
<text id="tProc" x="16.78" y="36.80" font-size="20.79">Processing</text>
<text id="title1" x="432.51" y="68.30" font-size="29.27">Dynamic storage modulus (G&#8217;)</text>
<text id="title2" x="1330.12" y="62.80" font-size="29.07">Damping factor (tan <tspan font-family="'Liberation Serif', serif">&#948;)</tspan></text>
<text id="c1y7" x="206.60" y="110.00" font-size="29.30" textLength="104.75" lengthAdjust="spacing">1.E <tspan dy="3.3">+</tspan><tspan dy="-3.3"> 07</tspan></text>
<text id="c1y6" x="205.80" y="310.70" font-size="29.30" textLength="104.55" lengthAdjust="spacing">1.E <tspan dy="3.3">+</tspan><tspan dy="-3.3"> 06</tspan></text>
<text id="c1y5" x="205.80" y="513.40" font-size="29.30" textLength="104.55" lengthAdjust="spacing">1.E <tspan dy="3.3">+</tspan><tspan dy="-3.3"> 05</tspan></text>
<text id="c1y4" x="205.00" y="712.70" font-size="29.30" textLength="104.95" lengthAdjust="spacing">1.E <tspan dy="3.3">+</tspan><tspan dy="-3.3"> 04</tspan></text>
<text id="c3y7" x="178.30" y="880.70" font-size="29.30" textLength="105.15" lengthAdjust="spacing">1.E <tspan dy="3.3">+</tspan><tspan dy="-3.3"> 07</tspan></text>
<text id="c3y6" x="179.25" y="1087.50" font-size="29.30" textLength="103.75" lengthAdjust="spacing">1.E <tspan dy="3.3">+</tspan><tspan dy="-3.3"> 06</tspan></text>
<text id="c3y5" x="179.25" y="1298.20" font-size="29.30" textLength="103.75" lengthAdjust="spacing">1.E <tspan dy="3.3">+</tspan><tspan dy="-3.3"> 05</tspan></text>
<text id="c3y4" x="177.50" y="1509.30" font-size="29.30" textLength="104.95" lengthAdjust="spacing">1.E <tspan dy="3.3">+</tspan><tspan dy="-3.3"> 04</tspan></text>
<text id="c5y7" x="179.10" y="1665.90" font-size="29.30" textLength="104.15" lengthAdjust="spacing">1.E <tspan dy="3.3">+</tspan><tspan dy="-3.3"> 07</tspan></text>
<text id="c5y6" x="179.25" y="1872.50" font-size="29.30" textLength="103.75" lengthAdjust="spacing">1.E <tspan dy="3.3">+</tspan><tspan dy="-3.3"> 06</tspan></text>
<text id="c5y5" x="179.25" y="2076.60" font-size="29.30" textLength="103.75" lengthAdjust="spacing">1.E <tspan dy="3.3">+</tspan><tspan dy="-3.3"> 05</tspan></text>
<text id="c5y4" x="178.50" y="2280.30" font-size="29.30" textLength="102.95" lengthAdjust="spacing">1.E <tspan dy="3.3">+</tspan><tspan dy="-3.3"> 04</tspan></text>
<text id="c1x30" x="309.70" y="750.60" font-size="29.30">30</text>
<text id="c1x70" x="516.00" y="750.60" font-size="29.30">70</text>
<text id="c1x110" x="714.10" y="750.60" font-size="29.30">110</text>
<text id="c1x150" x="913.60" y="750.60" font-size="29.30">150</text>
<text id="c2x70" x="1092.10" y="750.20" font-size="29.30">70</text>
<text id="c2x90" x="1257.40" y="750.20" font-size="29.30">90</text>
<text id="c2x110" x="1430.20" y="750.20" font-size="29.30">110</text>
<text id="c2x130" x="1591.80" y="750.20" font-size="29.30">130</text>
<text id="c2x150" x="1760.30" y="750.20" font-size="29.30">150</text>
<text id="c3x30" x="282.50" y="1542.50" font-size="29.30">30</text>
<text id="c3x70" x="506.30" y="1542.50" font-size="29.30">70</text>
<text id="c3x110" x="704.90" y="1542.50" font-size="29.30">110</text>
<text id="c3x150" x="927.40" y="1542.50" font-size="29.30">150</text>
<text id="c4x70" x="1092.10" y="1532.00" font-size="29.30">70</text>
<text id="c4x90" x="1257.40" y="1532.00" font-size="29.30">90</text>
<text id="c4x110" x="1430.20" y="1532.00" font-size="29.30">110</text>
<text id="c4x130" x="1608.10" y="1532.00" font-size="29.30">130</text>
<text id="c4x150" x="1771.60" y="1532.00" font-size="29.30">150</text>
<text id="c5x30" x="282.80" y="2314.40" font-size="29.30">30</text>
<text id="c5x70" x="505.20" y="2314.40" font-size="29.30">70</text>
<text id="c5x110" x="704.00" y="2314.40" font-size="29.30">110</text>
<text id="c5x150" x="925.50" y="2314.40" font-size="29.30">150</text>
<text id="c6x70" x="1133.80" y="2293.00" font-size="29.30">70</text>
<text id="c6x90" x="1287.60" y="2293.00" font-size="29.30">90</text>
<text id="c6x110" x="1441.40" y="2293.00" font-size="29.30">110</text>
<text id="c6x130" x="1592.00" y="2293.00" font-size="29.30">130</text>
<text id="c6x150" x="1745.40" y="2293.00" font-size="29.30">150</text>
<text id="c1temp" x="506.19" y="811.50" font-size="29.24">Temperature (&#176;C)</text>
<text id="c2temp" x="1375.19" y="810.80" font-size="29.13">Temperature (&#176;C)</text>
<text id="c3temp" x="545.37" y="1591.30" font-size="29.18">Temperature (&#176;C)</text>
<text id="c4temp" x="1360.95" y="1583.90" font-size="29.27">Temperature (&#176;C)</text>
<text id="c5temp" x="516.76" y="2360.80" font-size="29.16">Temperature (&#176;C)</text>
<text id="c6temp" x="1361.19" y="2360.80" font-size="29.21">Temperature (&#176;C)</text>
<text id="c2t1" x="1074.00" y="106.40" font-size="29.30">1</text>
<text id="c2t05" x="1054.00" y="410.40" font-size="29.30">0.5</text>
<text id="c2t0" x="1074.60" y="715.30" font-size="29.30">0</text>
<text id="c4t1" x="1077.10" y="886.90" font-size="29.30">1</text>
<text id="c4t05" x="1058.10" y="1191.70" font-size="29.30">0.5</text>
<text id="c4t0" x="1079.00" y="1496.70" font-size="29.30">0</text>
<text id="c6t1" x="1121.40" y="1655.60" font-size="29.30">1</text>
<text id="c6t05" x="1094.90" y="1961.40" font-size="29.30">0.5</text>
<text id="c6t0" x="1120.50" y="2260.00" font-size="29.30">0</text>
<text id="c1g" x="174.00" y="432.07" font-size="29.96" transform="rotate(-90 174.00 432.07)">G&#8242; (Pa)</text>
<text id="c3g" x="153.20" y="1219.82" font-size="28.94" transform="rotate(-90 153.20 1219.82)">G&#8242; (Pa)</text>
<text id="c5g" x="153.20" y="2006.87" font-size="29.82" transform="rotate(-90 153.20 2006.87)">G&#8242; (Pa)</text>
<text id="c2d" x="1024.20" y="383.53" font-size="28.85" transform="rotate(-90 1024.20 383.53)">Tan <tspan font-family="'Liberation Serif', serif" font-style="italic">&#948;</tspan></text>
<text id="c4d" x="1024.20" y="1220.62" font-size="28.44" transform="rotate(-90 1024.20 1220.62)">Tan <tspan font-family="'Liberation Serif', serif" font-style="italic">&#948;</tspan></text>
<text id="c6d" x="1043.00" y="1990.43" font-size="28.86" transform="rotate(-90 1043.00 1990.43)">Tan <tspan font-family="'Liberation Serif', serif" font-style="italic">&#948;</tspan></text>
<text id="t120" x="29.49" y="455.50" font-size="29.06">120&#176;C</text>
<text id="t150" x="14.93" y="1233.00" font-size="29.05">150&#176;C</text>
<text id="t180" x="30.12" y="2035.50" font-size="28.76">180&#176;C</text>
<text id="c1la" x="498.23" y="498.40" font-size="27.65">SBS</text>
<text id="c1lb" x="498.23" y="539.30" font-size="27.75">SBS/CNTs</text>
<text id="c1lc" x="498.25" y="576.60" font-size="27.45">SBS/COOH&#8211;CNTs</text>
<text id="c2la" x="1549.47" y="587.00" font-size="26.62">SBS</text>
<text id="c2lb" x="1549.43" y="631.40" font-size="27.58">SBS/CNTs</text>
<text id="c2lc" x="1549.44" y="671.80" font-size="27.38">SBS/COOH&#8211;CNTs</text>
<text id="c3la" x="429.05" y="1337.10" font-size="27.55">SBS</text>
<text id="c3lb" x="429.05" y="1378.10" font-size="27.75">SBS/CNTs</text>
<text id="c3lc" x="429.06" y="1415.60" font-size="27.50">SBS/COOH&#8211;CNTs</text>
<text id="c4la" x="1555.98" y="1364.20" font-size="27.03">SBS</text>
<text id="c4lb" x="1555.96" y="1404.80" font-size="27.49">SBS/CNTs</text>
<text id="c4lc" x="1555.97" y="1441.90" font-size="27.40">SBS/COOH&#8211;CNTs</text>
<text id="c5la" x="423.28" y="2110.10" font-size="26.52">SBS</text>
<text id="c5lb" x="423.23" y="2153.00" font-size="27.71">SBS/CNTs</text>
<text id="c5lc" x="423.26" y="2189.90" font-size="27.36">SBS/COOH&#8211;CNTs</text>
<text id="c6la" x="1545.63" y="2112.30" font-size="27.36">SBS</text>
<text id="c6lb" x="1545.62" y="2155.60" font-size="27.67">SBS/CNTs</text>
<text id="c6lc" x="1545.68" y="2199.90" font-size="26.70">SBS/COOH&#8211;CNTs</text>
</g>
</svg></body></html>
